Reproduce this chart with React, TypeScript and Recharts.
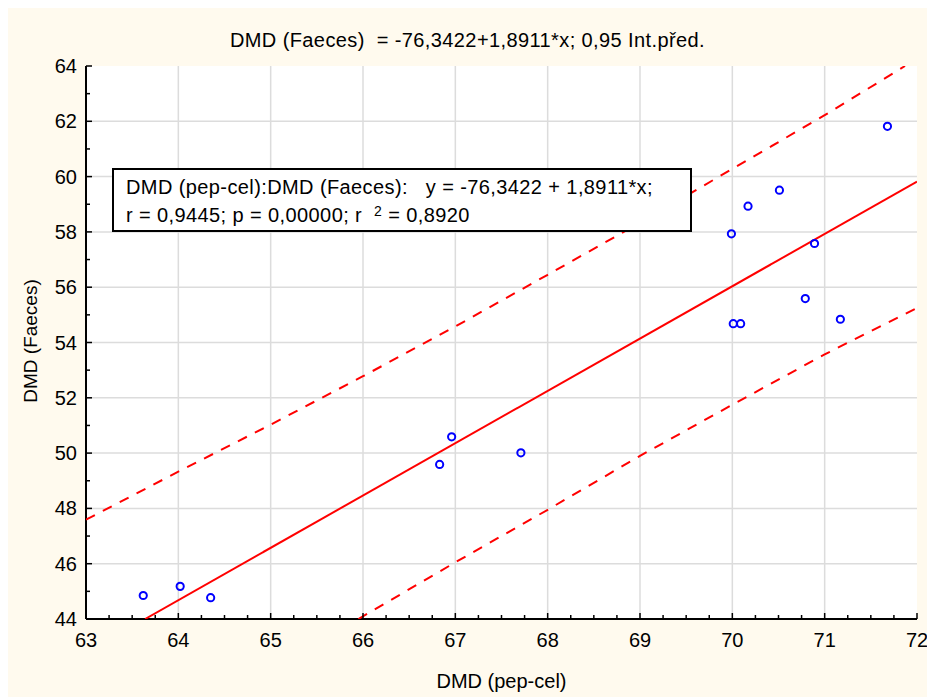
import React from 'react';
import { ScatterChart, Scatter, XAxis, YAxis, ReferenceLine, CartesianGrid } from 'recharts';

// Observed data: DMD (pep-cel) vs DMD (Faeces)
const pepCel = [63.62, 64.02, 64.35, 66.83, 66.96, 67.71, 69.99, 70.01, 70.09, 70.17, 70.51, 70.79, 70.89, 71.17, 71.68];
const faeces = [44.85, 45.18, 44.77, 49.59, 50.59, 50.01, 57.93, 54.68, 54.68, 58.93, 59.51, 55.59, 57.58, 54.84, 61.82];

// Regression line endpoints (as drawn)
const regX = [63.64, 72];
const regY = [44.0, 59.82];

// 0.95 prediction interval
const upperX = [63, 64, 65, 66, 67, 68, 69, 70, 71, 71.87];
const upperY = [47.59, 49.33, 51.03, 52.78, 54.58, 56.45, 58.33, 60.28, 62.22, 64.0];
const lowerX = [65.95, 67, 68, 69, 70, 71, 72];
const lowerY = [44.0, 46.05, 47.95, 49.9, 51.75, 53.57, 55.25];

// Axis tick labels
const xMajor = [63, 64, 65, 66, 67, 68, 69, 70, 71, 72];
const yMajor = [44, 46, 48, 50, 52, 54, 56, 58, 60, 62, 64];

const xTicks: number[] = [];
for (let i = 0; i <= 36; i++) xTicks.push(63 + i * 0.25);
const yTicks: number[] = [];
for (let i = 0; i <= 20; i++) yTicks.push(44 + i);

const points = pepCel.map((x, i) => ({ x, y: faeces[i] }));
const regData = regX.map((x, i) => ({ x, y: regY[i] }));
const upperData = upperX.map((x, i) => ({ x, y: upperY[i] }));
const lowerData = lowerX.map((x, i) => ({ x, y: lowerY[i] }));

const FONT = "'Liberation Sans', Arial, sans-serif";
const RED = '#ff0000';
const BLUE = '#0000ff';

const isInt = (v: number) => Math.abs(v - Math.round(v)) < 1e-6;
const isEven = (v: number) => isInt(v) && Math.round(v) % 2 === 0;

const BottomTick = (p: any) => {
  const { x, y, payload } = p;
  const v = payload.value;
  const major = isInt(v);
  return (
    <g>
      <line x1={x} x2={x} y1={y} y2={y - (major ? 6 : 4)} stroke="#000" strokeWidth={1.5} />
      {major && xMajor.includes(Math.round(v)) && (
        <text x={x} y={y + 28} textAnchor="middle" fontSize={20} fontFamily={FONT} fill="#000">
          {Math.round(v)}
        </text>
      )}
    </g>
  );
};

const TopTick = (p: any) => {
  const { x, y, payload } = p;
  const major = isInt(payload.value);
  return <line x1={x} x2={x} y1={y} y2={y + (major ? 5 : 4)} stroke="#000" strokeWidth={1.5} />;
};

const LeftTick = (p: any) => {
  const { x, y, payload } = p;
  const v = payload.value;
  const major = isEven(v);
  return (
    <g>
      <line x1={x} x2={x + (major ? 6 : 4)} y1={y} y2={y} stroke="#000" strokeWidth={1.5} />
      {major && yMajor.includes(Math.round(v)) && (
        <text x={x - 9} y={y + 7} textAnchor="end" fontSize={20} fontFamily={FONT} fill="#000">
          {Math.round(v)}
        </text>
      )}
    </g>
  );
};

const RightTick = (p: any) => {
  const { x, y, payload } = p;
  const major = isEven(payload.value);
  return <line x1={x} x2={x - (major ? 5 : 4)} y1={y} y2={y} stroke="#000" strokeWidth={1.5} />;
};

const Circle = (p: any) => (
  <circle cx={p.cx} cy={p.cy} r={3.6} fill="none" stroke={BLUE} strokeWidth={2} />
);
const NoShape = () => <g />;

export default function App() {
  return (
    <div style={{ position: 'fixed', left: 8, top: 8, width: 919, height: 689, background: '#FFFAEE' }}>
      <div style={{ position: 'absolute', left: 0, top: 0 }}>
        <ScatterChart
          width={919}
          height={689}
          margin={{ top: 58, right: 10, bottom: 48, left: 18 }}
          style={{ overflow: 'visible' }}
        >
          <CartesianGrid horizontal={false} vertical={false} fill="#ffffff" stroke="none" />
          {xMajor.slice(1, -1).map((v) => (
            <ReferenceLine key={'gx' + v} x={v} stroke="#dcdcdc" strokeWidth={1.5} />
          ))}
          {yMajor.slice(1, -1).map((v) => (
            <ReferenceLine key={'gy' + v} y={v} stroke="#dcdcdc" strokeWidth={1.5} />
          ))}
          <XAxis
            type="number"
            dataKey="x"
            domain={[63, 72]}
            ticks={xTicks}
            interval={0}
            allowDataOverflow
            tickSize={0}
            tickMargin={0}
            tickLine={false}
            tick={BottomTick}
            axisLine={{ stroke: '#000', strokeWidth: 2 }}
            height={30}
          />
          <XAxis
            xAxisId="top"
            orientation="top"
            type="number"
            dataKey="x"
            domain={[63, 72]}
            ticks={xTicks}
            interval={0}
            allowDataOverflow
            tickSize={0}
            tickMargin={0}
            tickLine={false}
            tick={TopTick}
            axisLine={{ stroke: '#000', strokeWidth: 2 }}
            height={0}
          />
          <YAxis
            type="number"
            dataKey="y"
            domain={[44, 64]}
            ticks={yTicks}
            interval={0}
            allowDataOverflow
            tickSize={0}
            tickMargin={0}
            tickLine={false}
            tick={LeftTick}
            axisLine={{ stroke: '#000', strokeWidth: 2 }}
            width={60}
          />
          <YAxis
            yAxisId="right"
            orientation="right"
            type="number"
            dataKey="y"
            domain={[44, 64]}
            ticks={yTicks}
            interval={0}
            allowDataOverflow
            tickSize={0}
            tickMargin={0}
            tickLine={false}
            tick={RightTick}
            axisLine={{ stroke: '#000', strokeWidth: 2 }}
            width={0}
          />
          <Scatter
            data={upperData}
            line={{ stroke: RED, strokeWidth: 2, strokeDasharray: '10 9' }}
            shape={NoShape}
            isAnimationActive={false}
          />
          <Scatter
            data={lowerData}
            line={{ stroke: RED, strokeWidth: 2, strokeDasharray: '10 9' }}
            shape={NoShape}
            isAnimationActive={false}
          />
          <Scatter
            data={regData}
            line={{ stroke: RED, strokeWidth: 2 }}
            shape={NoShape}
            isAnimationActive={false}
          />
          <Scatter data={points} shape={Circle} isAnimationActive={false} />
        </ScatterChart>
      </div>
      <svg
        width={919}
        height={689}
        style={{ position: 'absolute', left: 0, top: 0, pointerEvents: 'none' }}
        fontFamily={FONT}
      >
        <text x={459.5} y={38.7} textAnchor="middle" fontSize={20} letterSpacing={0.4} fill="#000" style={{ whiteSpace: 'pre' }}>
          {'DMD (Faeces)  = -76,3422+1,8911*x; 0,95 Int.před.'}
        </text>
        <text x={493.5} y={680} textAnchor="middle" fontSize={20} fill="#000">
          DMD (pep-cel)
        </text>
        <text
          x={29}
          y={333}
          textAnchor="middle"
          fontSize={19}
          fill="#000"
          transform="rotate(-90 29 333)"
        >
          DMD (Faeces)
        </text>
        <rect x={105} y={161} width={578} height={62} fill="#ffffff" stroke="#000" strokeWidth={2} />
        <text x={118} y={185.5} fontSize={20} letterSpacing={0.4} fill="#000" style={{ whiteSpace: 'pre' }}>
          {'DMD (pep-cel):DMD (Faeces):   y = -76,3422 + 1,8911*x;'}
        </text>
        <text x={118} y={214} fontSize={20} letterSpacing={0.4} fill="#000" style={{ whiteSpace: 'pre' }}>
          {'r = 0,9445; p = 0,00000; r  '}
          <tspan fontSize={14} dy={-6}>2</tspan>
          <tspan dy={6}>{' = 0,8920'}</tspan>
        </text>
      </svg>
    </div>
  );
}
